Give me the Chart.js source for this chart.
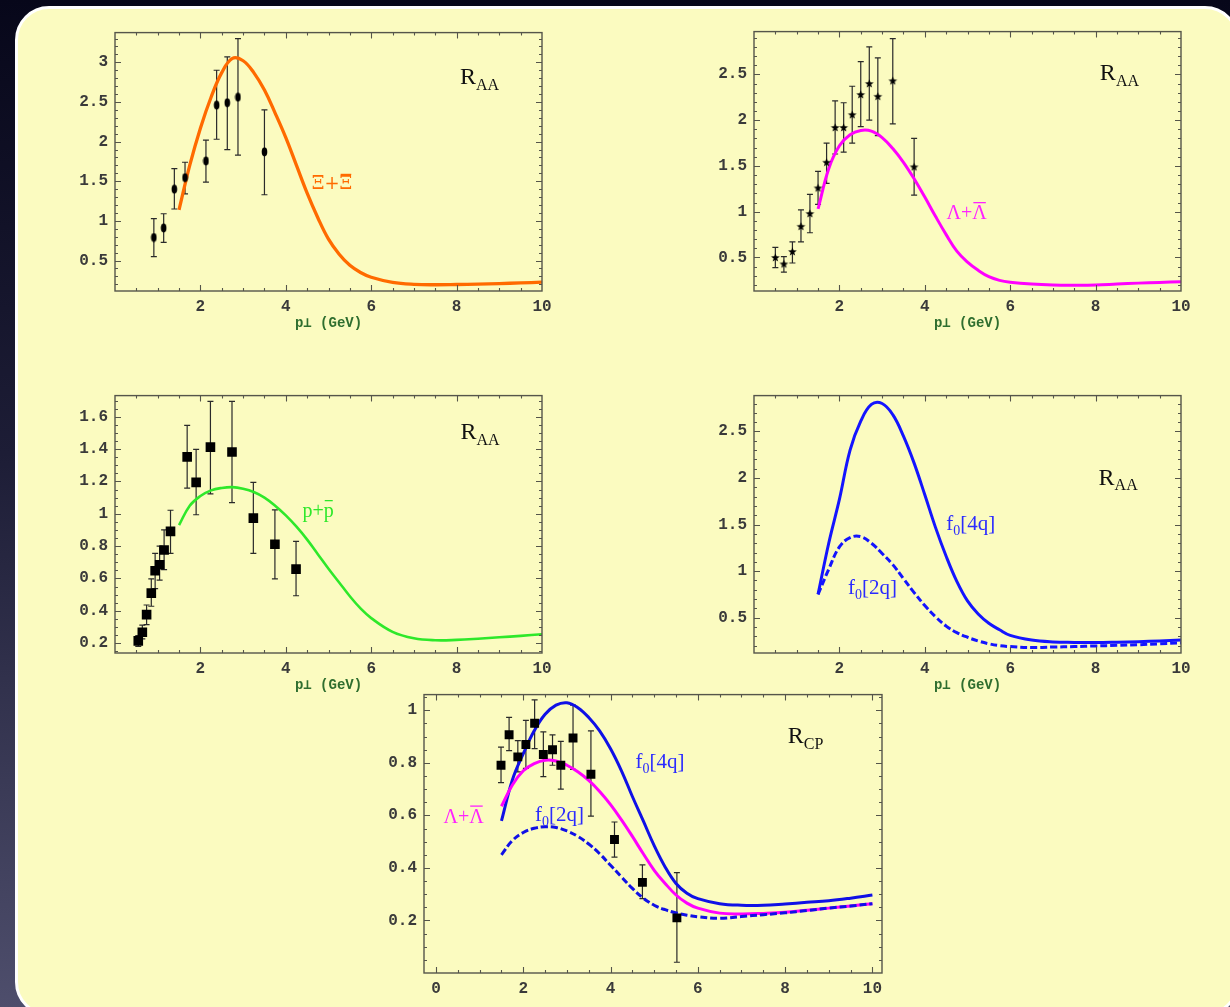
<!DOCTYPE html>
<html>
<head>
<meta charset="utf-8">
<script src="https://cdn.jsdelivr.net/npm/chart.js@4.4.1/dist/chart.umd.min.js"></script>
<style>
  html, body { margin: 0; padding: 0; }
  body {
    width: 1230px; height: 1007px; overflow: hidden; position: relative;
    background: linear-gradient(to bottom, #07071a 0%, #1d1d36 45%, #4e4e6c 100%);
  }
  #sheet {
    position: absolute; left: 15px; top: 6px; width: 1224px; height: 1010px;
    box-sizing: border-box; border: 3px solid #fff; border-radius: 34px; background: #fbfbc0;
  }
  canvas { position: absolute; }
</style>
</head>
<body>
<div id="sheet"></div>
<canvas id="xiChart"></canvas>
<canvas id="lamChart"></canvas>
<canvas id="protonChart"></canvas>
<canvas id="f0RaaChart"></canvas>
<canvas id="rcpChart"></canvas>
<script>
// --- model curves, sampled on a common p_T grid (GeV) ---
const curveX = [1.5, 1.75, 2, 2.25, 2.5, 2.75, 3, 3.25, 3.5, 3.75, 4, 4.25, 4.5, 4.75, 5, 5.25, 5.5, 5.75, 6, 6.5, 7, 7.5, 8, 8.5, 9, 9.5, 10];

const xiCurve     = [1.14, 1.70, 2.17, 2.56, 2.87, 3.05, 3.02, 2.87, 2.65, 2.36, 2.05, 1.70, 1.35, 1.04, 0.77, 0.58, 0.44, 0.35, 0.29, 0.225, 0.20, 0.195, 0.198, 0.203, 0.21, 0.218, 0.227];
const lamCurve    = [1.03, 1.47, 1.72, 1.84, 1.887, 1.88, 1.81, 1.69, 1.54, 1.36, 1.16, 0.95, 0.75, 0.57, 0.45, 0.36, 0.29, 0.25, 0.23, 0.21, 0.20, 0.198, 0.20, 0.21, 0.22, 0.228, 0.235];
const protonCurve = [0.93, 1.05, 1.11, 1.145, 1.16, 1.165, 1.155, 1.135, 1.10, 1.05, 0.99, 0.92, 0.84, 0.75, 0.66, 0.575, 0.49, 0.415, 0.355, 0.27, 0.23, 0.218, 0.22, 0.227, 0.236, 0.245, 0.255];
const f04qRaa     = [0.75, 1.30, 1.77, 2.30, 2.61, 2.79, 2.80, 2.68, 2.45, 2.16, 1.82, 1.47, 1.16, 0.89, 0.68, 0.54, 0.44, 0.37, 0.31, 0.26, 0.24, 0.235, 0.233, 0.237, 0.243, 0.25, 0.26];
const f02qRaa     = [0.75, 1.02, 1.26, 1.36, 1.37, 1.30, 1.19, 1.07, 0.92, 0.77, 0.63, 0.51, 0.41, 0.34, 0.29, 0.25, 0.22, 0.20, 0.19, 0.18, 0.185, 0.19, 0.197, 0.203, 0.21, 0.22, 0.23];
const f04qRcp     = [0.579, 0.735, 0.835, 0.922, 0.985, 1.02, 1.029, 1.01, 0.973, 0.922, 0.854, 0.77, 0.672, 0.579, 0.485, 0.404, 0.341, 0.304, 0.283, 0.264, 0.258, 0.258, 0.263, 0.269, 0.275, 0.285, 0.297];
const lamRcp      = [0.635, 0.716, 0.77, 0.797, 0.81, 0.807, 0.791, 0.766, 0.733, 0.691, 0.641, 0.583, 0.52, 0.454, 0.391, 0.341, 0.297, 0.266, 0.247, 0.228, 0.225, 0.227, 0.231, 0.239, 0.247, 0.255, 0.264];
const f02qRcp     = [0.45, 0.504, 0.535, 0.551, 0.557, 0.554, 0.541, 0.52, 0.491, 0.454, 0.41, 0.366, 0.322, 0.285, 0.258, 0.241, 0.229, 0.22, 0.214, 0.208, 0.215, 0.222, 0.229, 0.238, 0.247, 0.255, 0.264];

// --- measured points (value, lower and upper end of error bar) ---
const xiX  = [0.91, 1.14, 1.39, 1.64, 2.13, 2.38, 2.63, 2.88, 3.50];
const xiY  = [0.79, 0.91, 1.40, 1.545, 1.755, 2.46, 2.49, 2.56, 1.87];
const xiLo = [0.55, 0.73, 1.15, 1.34, 1.49, 2.03, 1.90, 1.83, 1.33];
const xiHi = [1.03, 1.09, 1.66, 1.74, 2.02, 2.90, 3.07, 3.30, 2.40];

const lamX  = [0.50, 0.70, 0.90, 1.10, 1.31, 1.50, 1.70, 1.90, 2.10, 2.30, 2.50, 2.70, 2.90, 3.25, 3.75];
const lamY  = [0.50, 0.43, 0.565, 0.84, 0.98, 1.26, 1.54, 1.92, 1.92, 2.06, 2.28, 2.40, 2.26, 2.43, 1.49];
const lamLo = [0.39, 0.34, 0.44, 0.67, 0.77, 1.08, 1.31, 1.63, 1.65, 1.75, 1.93, 2.00, 1.83, 1.96, 1.18];
const lamHi = [0.61, 0.51, 0.67, 1.02, 1.19, 1.44, 1.75, 2.21, 2.19, 2.37, 2.64, 2.80, 2.68, 2.89, 1.80];

const protonX  = [0.545, 0.64, 0.74, 0.85, 0.94, 1.045, 1.15, 1.30, 1.69, 1.90, 2.235, 2.74, 3.24, 3.745, 4.24];
const protonY  = [0.214, 0.267, 0.376, 0.509, 0.648, 0.685, 0.776, 0.891, 1.352, 1.194, 1.412, 1.382, 0.973, 0.812, 0.658];
const protonLo = [0.18, 0.226, 0.315, 0.428, 0.537, 0.59, 0.655, 0.755, 1.159, 0.994, 1.123, 1.069, 0.755, 0.598, 0.493];
const protonHi = [0.246, 0.311, 0.436, 0.598, 0.755, 0.80, 0.90, 1.022, 1.547, 1.398, 1.695, 1.695, 1.194, 1.024, 0.83];

const rcpX  = [1.49, 1.675, 1.875, 2.06, 2.26, 2.46, 2.67, 2.86, 3.14, 3.55, 4.09, 4.73, 5.52];
const rcpY  = [0.791, 0.907, 0.823, 0.87, 0.951, 0.832, 0.85, 0.791, 0.895, 0.757, 0.508, 0.345, 0.21];
const rcpLo = [0.725, 0.847, 0.766, 0.779, 0.854, 0.748, 0.791, 0.70, 0.775, 0.597, 0.441, 0.283, 0.041];
const rcpHi = [0.86, 0.973, 0.885, 0.962, 1.04, 0.918, 0.907, 0.882, 1.02, 0.922, 0.575, 0.412, 0.382];

const xTickLabels = [2, 4, 6, 8, 10];
const xTickLabelsRcp = [0, 2, 4, 6, 8, 10];

Chart.defaults.font.family = '"Liberation Mono", "DejaVu Sans Mono", monospace';
Chart.defaults.color = '#333';

const FRAME = '#55554a';
const SERIF = '"Liberation Serif", "DejaVu Serif", serif';
const GREEK = '"DejaVu Serif", serif';

// little point symbols
function ovalMark() {
  const c = document.createElement('canvas');
  c.width = 7; c.height = 10;
  const g = c.getContext('2d');
  g.fillStyle = '#000';
  g.beginPath(); g.ellipse(3.5, 5, 2.8, 4.4, 0, 0, Math.PI * 2); g.fill();
  return c;
}
function starMark() {
  const c = document.createElement('canvas');
  c.width = 11; c.height = 11;
  const g = c.getContext('2d');
  g.fillStyle = '#000';
  g.beginPath();
  for (let i = 0; i < 10; i++) {
    const r = i % 2 ? 1.9 : 4.6;
    const a = -Math.PI / 2 + i * Math.PI / 5;
    g.lineTo(5.5 + r * Math.cos(a), 5.8 + r * Math.sin(a));
  }
  g.closePath(); g.fill();
  return c;
}

function steps(min, max, step) {
  const out = [];
  for (let k = Math.ceil(min / step - 1e-6); k * step <= max + 1e-9; k++) out.push(+(k * step).toFixed(4));
  return out;
}

// frame with inward ticks on all four sides (Mathematica style)
const frameTicks = {
  id: 'frameTicks',
  afterDatasetsDraw(chart, args, o) {
    const { ctx, chartArea: a, scales: { x, y } } = chart;
    ctx.save();
    ctx.strokeStyle = FRAME;
    ctx.lineWidth = 1.4;
    ctx.strokeRect(a.left, a.top, a.right - a.left, a.bottom - a.top);
    ctx.lineWidth = 1.1;
    ctx.beginPath();
    const tx = (vals, len) => vals.forEach(v => {
      const px = Math.round(x.getPixelForValue(v)) + 0.5;
      if (px < a.left + 1 || px > a.right - 1) return;
      ctx.moveTo(px, a.bottom); ctx.lineTo(px, a.bottom - len);
      ctx.moveTo(px, a.top); ctx.lineTo(px, a.top + len);
    });
    const ty = (vals, len) => vals.forEach(v => {
      const py = Math.round(y.getPixelForValue(v)) + 0.5;
      if (py < a.top + 1 || py > a.bottom - 1) return;
      ctx.moveTo(a.left, py); ctx.lineTo(a.left + len, py);
      ctx.moveTo(a.right, py); ctx.lineTo(a.right - len, py);
    });
    tx(steps(x.min, x.max, o.xMinor), 3);
    tx(steps(x.min, x.max, o.xMajor), 6);
    ty(steps(y.min, y.max, o.yMinor), 3);
    ty(steps(y.min, y.max, o.yMajor), 6);
    ctx.stroke();
    ctx.restore();
  }
};

// vertical error bars with caps, taken from dataset.errLo / dataset.errHi
const errorBars = {
  id: 'errorBars',
  beforeDatasetsDraw(chart) {
    const { ctx, scales: { x, y } } = chart;
    ctx.save();
    ctx.strokeStyle = '#2a2a2a';
    ctx.lineWidth = 1.2;
    chart.data.datasets.forEach(ds => {
      if (!ds.errLo) return;
      ds.data.forEach((p, i) => {
        const px = x.getPixelForValue(p.x);
        const lo = y.getPixelForValue(ds.errLo[i]);
        const hi = y.getPixelForValue(ds.errHi[i]);
        ctx.beginPath();
        ctx.moveTo(px, lo); ctx.lineTo(px, hi);
        ctx.moveTo(px - 3, lo); ctx.lineTo(px + 3, lo);
        ctx.moveTo(px - 3, hi); ctx.lineTo(px + 3, hi);
        ctx.stroke();
      });
    });
    ctx.restore();
  }
};

// text labels inside the frame: parts may be subscripted or overlined
const notes = {
  id: 'notes',
  afterDraw(chart, args, o) {
    const { ctx, scales: { x, y } } = chart;
    (o.items || []).forEach(n => {
      let cx = x.getPixelForValue(n.x);
      const by = y.getPixelForValue(n.y);
      ctx.save();
      ctx.fillStyle = n.color; ctx.strokeStyle = n.color;
      ctx.textBaseline = 'alphabetic';
      n.parts.forEach(p => {
        const fs = p.sub ? Math.round(n.size * 0.68) : n.size;
        ctx.font = fs + 'px ' + (n.font || SERIF);
        const dy = p.sub ? n.size * 0.24 : 0;
        ctx.fillText(p.t, cx, by + dy);
        const w = ctx.measureText(p.t).width;
        if (p.bar) {
          ctx.lineWidth = 1.3;
          ctx.beginPath();
          ctx.moveTo(cx + 1, by - n.size * 0.82); ctx.lineTo(cx + w - 1, by - n.size * 0.82);
          ctx.stroke();
        }
        cx += w;
      });
      ctx.restore();
    });
  }
};

const pts = (xs, ys) => xs.map((v, i) => ({ x: v, y: ys[i] }));

function curve(ys, color, width, dash) {
  return {
    type: 'line', data: pts(curveX, ys), borderColor: color, borderWidth: width,
    borderDash: dash || [], pointRadius: 0, fill: false, tension: 0.4
  };
}
function marks(xs, ys, lo, hi, style, radius) {
  return {
    type: 'scatter', data: pts(xs, ys), errLo: lo, errHi: hi,
    pointStyle: style, pointRadius: radius, backgroundColor: '#000', borderColor: '#000', borderWidth: 0
  };
}

const fmt = v => String(+v.toFixed(2));

function panel(id, box, xr, yr, tk, datasets, items, showTitle) {
  const padL = 70, padT = 12, padR = 22, axisH = 48;
  const cv = document.getElementById(id);
  cv.width = box.w + padL + padR;
  cv.height = box.h + padT + axisH;
  cv.style.left = (box.l - padL) + 'px';
  cv.style.top = (box.t - padT) + 'px';
  new Chart(cv, {
    type: 'scatter',
    data: { datasets },
    options: {
      responsive: false, animation: false,
      layout: { padding: { left: 0, top: padT, right: padR, bottom: 0 } },
      plugins: {
        legend: { display: false }, tooltip: { enabled: false },
        frameTicks: tk, notes: { items }
      },
      scales: {
        x: {
          type: 'linear', min: xr[0], max: xr[1],
          grid: { display: false, drawTicks: false }, border: { display: false },
          afterBuildTicks: s => { s.ticks = tk.xLabels.map(v => ({ value: v })); },
          afterFit: s => { s.height = axisH; },
          ticks: { padding: 6, maxRotation: 0, autoSkip: false, callback: fmt,
                   font: { size: 16, weight: 'bold' }, color: '#3a3a3a' },
          title: { display: showTitle, text: 'p\u22A5 (GeV)', color: '#2f6e2f',
                   font: { size: 14, weight: 'bold' }, padding: { top: 0, bottom: 7 } }
        },
        y: {
          type: 'linear', min: yr[0], max: yr[1],
          grid: { display: false, drawTicks: false }, border: { display: false },
          afterBuildTicks: s => {
            s.ticks = steps(yr[0], yr[1], tk.yMajor).filter(v => v > 0).map(v => ({ value: v }));
          },
          afterFit: s => { s.width = padL; },
          ticks: { padding: 7, autoSkip: false, callback: fmt,
                   font: { size: 16, weight: 'bold' }, color: '#3a3a3a' }
        }
      }
    },
    plugins: [errorBars, frameTicks, notes]
  });
}

const RAA = [{ t: 'R' }, { t: 'AA', sub: true }];
const RCP = [{ t: 'R' }, { t: 'CP', sub: true }];
const F4Q = [{ t: 'f' }, { t: '0', sub: true }, { t: '[4q]' }];
const F2Q = [{ t: 'f' }, { t: '0', sub: true }, { t: '[2q]' }];
const LAM = [{ t: '\u039B+' }, { t: '\u039B', bar: true }];
const XI  = [{ t: '\u039E+' }, { t: '\u039E', bar: true }];
const PP  = [{ t: 'p+' }, { t: 'p', bar: true }];

const raaTicks = { xMajor: 2, xMinor: 0.5, yMajor: 0.5, yMinor: 0.1, xLabels: xTickLabels };

// Xi + anti-Xi
panel('xiChart', { l: 115, t: 28, w: 427, h: 263 }, [0, 10], [0.116, 3.375], raaTicks, [
  marks(xiX, xiY, xiLo, xiHi, ovalMark(), 4),
  curve(xiCurve, '#ff6a00', 3.3)
], [
  { x: 8.08, y: 2.73, parts: RAA, size: 24, color: '#111' },
  { x: 4.61, y: 1.40, parts: XI, size: 18, color: '#ff6a00', font: GREEK }
], true);

// Lambda + anti-Lambda
panel('lamChart', { l: 754, t: 27, w: 427, h: 264 }, [0, 10], [0.134, 2.967], raaTicks, [
  marks(lamX, lamY, lamLo, lamHi, starMark(), 5),
  curve(lamCurve, '#ff00ff', 3)
], [
  { x: 8.10, y: 2.44, parts: RAA, size: 24, color: '#111' },
  { x: 4.51, y: 0.92, parts: LAM, size: 20, color: '#ff22ff' }
], true);

// p + anti-p
panel('protonChart', { l: 115, t: 391, w: 427, h: 262 }, [0, 10], [0.139, 1.731],
  { xMajor: 2, xMinor: 0.5, yMajor: 0.2, yMinor: 0.05, xLabels: xTickLabels }, [
  marks(protonX, protonY, protonLo, protonHi, 'rect', 6.8),
  curve(protonCurve, '#2ee82a', 2.6)
], [
  { x: 8.09, y: 1.46, parts: RAA, size: 24, color: '#111' },
  { x: 4.39, y: 0.98, parts: PP, size: 20, color: '#2ee82a' }
], true);

// f0 as 4q and 2q state, R_AA
panel('f0RaaChart', { l: 754, t: 391, w: 427, h: 262 }, [0, 10], [0.121, 2.885], raaTicks, [
  curve(f04qRaa, '#1414ff', 3),
  curve(f02qRaa, '#1414ff', 3, [7, 3])
], [
  { x: 8.07, y: 1.93, parts: RAA, size: 24, color: '#111' },
  { x: 4.50, y: 1.44, parts: F4Q, size: 21, color: '#2a2aff' },
  { x: 2.20, y: 0.75, parts: F2Q, size: 21, color: '#2a2aff' }
], true);

// R_CP
panel('rcpChart', { l: 424, t: 690, w: 458, h: 283 }, [-0.275, 10.22], [0, 1.06],
  { xMajor: 2, xMinor: 0.5, yMajor: 0.2, yMinor: 0.05, xLabels: xTickLabelsRcp }, [
  marks(rcpX, rcpY, rcpLo, rcpHi, 'rect', 6.3),
  curve(f02qRcp, '#1010e6', 3, [7, 3]),
  curve(lamRcp, '#ff00ff', 3),
  curve(f04qRcp, '#1010e6', 3)
], [
  { x: 8.06, y: 0.875, parts: RCP, size: 24, color: '#111' },
  { x: 4.57, y: 0.779, parts: F4Q, size: 21, color: '#2a2aff' },
  { x: 2.27, y: 0.579, parts: F2Q, size: 21, color: '#2a2aff' },
  { x: 0.17, y: 0.573, parts: LAM, size: 20, color: '#ff22ff' }
], false);
</script>
</body>
</html>
